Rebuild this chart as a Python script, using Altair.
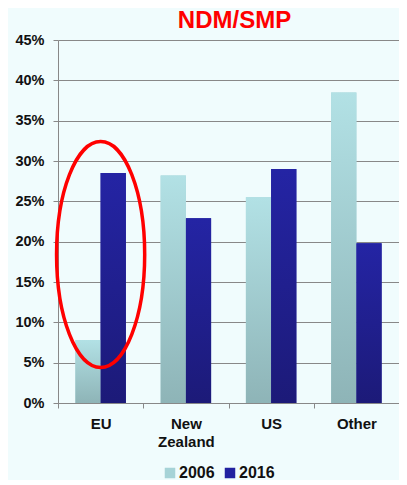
import altair as alt
import pandas as pd

regions = ["EU", "New\nZealand", "US", "Other"]
years = ["2006", "2016"]
share_2006 = [0.078, 0.282, 0.255, 0.385]
share_2016 = [0.285, 0.229, 0.290, 0.198]
y_ticks = [0, 0.05, 0.10, 0.15, 0.20, 0.25, 0.30, 0.35, 0.40, 0.45]
highlight_region = ["EU"]
highlight_center = [0.184]

rows = []
for r, a, b in zip(regions, share_2006, share_2016):
    rows.append({"region": r, "year": "2006", "share": a})
    rows.append({"region": r, "year": "2016", "share": b})
df = pd.DataFrame(rows)
hl = pd.DataFrame({"region": highlight_region, "share": highlight_center})

FONT = "Liberation Sans"
grad06 = alt.Gradient(gradient="linear", x1=0, x2=0, y1=0, y2=1,
                      stops=[alt.GradientStop(color="#B2E1E5", offset=0),
                             alt.GradientStop(color="#8EB4B7", offset=1)])
grad16 = alt.Gradient(gradient="linear", x1=0, x2=0, y1=0, y2=1,
                      stops=[alt.GradientStop(color="#2424A4", offset=0),
                             alt.GradientStop(color="#1C1A78", offset=1)])

x_enc = alt.X("region:N", sort=regions, title=None,
              scale=alt.Scale(paddingInner=0, paddingOuter=0),
              axis=alt.Axis(labelAngle=0, labelFont=FONT, labelFontSize=15,
                            labelFontWeight="bold", labelColor="#111111",
                            labelPadding=8, labelLineHeight=18,
                            tickBand="extent", tickSize=5, tickColor="#888888",
                            domainColor="#888888", grid=False,
                            labelExpr="split(datum.label, '\\n')"))
y_enc = alt.Y("share:Q", title=None,
              scale=alt.Scale(domain=[0, 0.45], nice=False),
              axis=alt.Axis(values=y_ticks, format=".0%", labelFont=FONT,
                            labelFontSize=14.5, labelFontWeight="bold",
                            labelColor="#111111", labelPadding=9,
                            tickSize=5, tickColor="#888888",
                            domainColor="#888888", gridColor="#888888",
                            gridWidth=1.2))
xo = alt.XOffset("year:N", sort=years,
                 scale=alt.Scale(paddingOuter=0.69, paddingInner=0))

legend_bars = alt.Chart(df).mark_bar(opacity=1).encode(
    x=x_enc, y=y_enc, xOffset=xo,
    color=alt.Color("year:N", sort=years,
                    scale=alt.Scale(domain=years, range=["#A6D3D7", "#2121A0"]),
                    legend=alt.Legend(title=None, orient="none", direction="horizontal",
                                      legendX=104, legendY=425,
                                      symbolType="square", symbolSize=110,
                                      symbolStrokeWidth=0, symbolOpacity=1,
                                      labelFont=FONT, labelFontSize=16,
                                      labelFontWeight="bold", labelColor="#111111",
                                      labelOffset=1, columnPadding=7)))

bars06 = alt.Chart(df).transform_filter(alt.datum.year == "2006").mark_bar(
    color=grad06).encode(x=x_enc, y=y_enc, xOffset=xo)
bars16 = alt.Chart(df).transform_filter(alt.datum.year == "2016").mark_bar(
    color=grad16).encode(x=x_enc, y=y_enc, xOffset=xo)

ellipse = alt.Chart(hl).mark_point(
    shape="M -0.39,0 A 0.39,1 0 1,1 0.39,0 A 0.39,1 0 1,1 -0.39,0 Z",
    size=51076, filled=False, stroke="#FF0000", strokeWidth=3.5, opacity=1
).encode(x=alt.X("region:N", sort=regions), y=alt.Y("share:Q"))

chart = alt.layer(legend_bars, bars06, bars16, ellipse).properties(
    width=341, height=363,
    title=alt.TitleParams("NDM/SMP", fontSize=24, font=FONT, fontWeight="bold",
                          color="#FF0000", anchor="middle", offset=0, dx=6,
                          baseline="alphabetic", dy=20),
    background="#F0FCFD",
    padding={"left": 50, "top": 32, "right": 0, "bottom": 77},
    autosize=alt.AutoSizeParams(type="none"),
).configure_view(stroke=None)

chart.save("out.html", embed_options={"renderer": "svg", "actions": False})
